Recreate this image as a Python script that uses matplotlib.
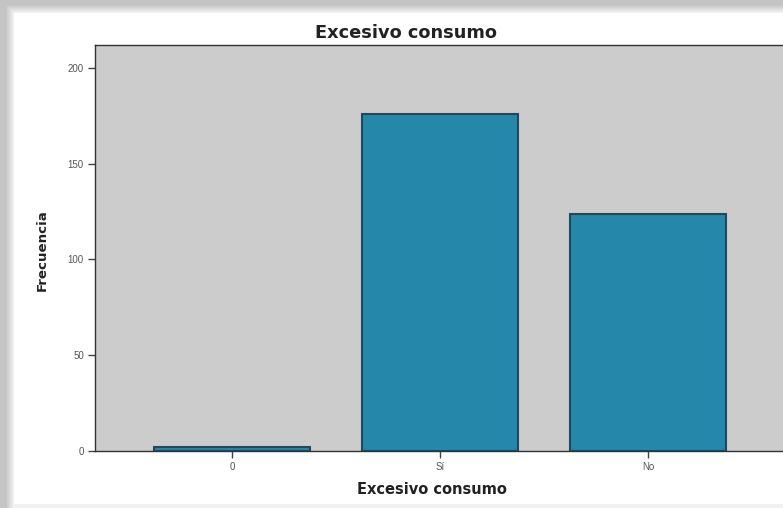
import matplotlib
matplotlib.use("Agg")
import matplotlib.pyplot as plt
from matplotlib.patches import Rectangle

categories = ['0', 'Sí', 'No']
frecuencia = [2, 176, 124]
yticks = [0, 50, 100, 150, 200]

W, H = 783, 508
fig = plt.figure(figsize=(7.83, 5.08), dpi=100, facecolor='#c4c4c4')

# grey shadow fading toward the white panel (left and top edges)
shades = ['#c8c8c8', '#cdcdcd', '#d3d3d3', '#d9d9d9', '#dfdfdf', '#e5e5e5', '#ebebeb', '#f1f1f1']
for i, c in enumerate(shades):
    off = 8 - i
    fig.patches.append(Rectangle(((14 - off) / W, 0), 1.1, (H - 13 + off) / H,
                                 transform=fig.transFigure, facecolor=c, edgecolor='none', zorder=-3))
fig.patches.append(Rectangle((14 / W, 4 / H), 1.1, (H - 13 - 4) / H,
                             transform=fig.transFigure, facecolor='white', edgecolor='none', zorder=-2))

ax = fig.add_axes([95 / W, 57 / H, 690 / W, 406 / H])
ax.set_facecolor('#cccccc')

x = range(len(categories))
ax.bar(x, frecuencia, width=0.75, color='#2587a9', edgecolor='#1d4a5e', linewidth=1.5, zorder=2)

ax.set_xlim(-0.659, 2.659)
ax.set_ylim(0, 212)
ax.set_xticks(list(x))
ax.set_xticklabels(categories, fontsize=7, color='#555555', family='Liberation Sans')
ax.set_yticks(yticks)
ax.set_yticklabels([str(v) for v in yticks], fontsize=7, color='#555555', family='Liberation Sans')
ax.tick_params(axis='both', direction='out', length=5, width=1, color='#444444', pad=3)

for s in ax.spines.values():
    s.set_color('#333333')
    s.set_linewidth(1)

fig.text(406 / W, (H - 33) / H, 'Excesivo consumo', ha='center', va='center',
         fontsize=12.8, fontweight='bold', color='#222222', family='DejaVu Sans')
fig.text(432 / W, (H - 490) / H, 'Excesivo consumo', ha='center', va='center',
         fontsize=10.5, fontweight='bold', color='#222222', family='DejaVu Sans')
fig.text(42 / W, (H - 250) / H, 'Frecuencia', ha='center', va='center', rotation=90,
         fontsize=9.6, fontweight='bold', color='#222222', family='DejaVu Sans')

fig.savefig('out.png', dpi=100, facecolor=fig.get_facecolor())
